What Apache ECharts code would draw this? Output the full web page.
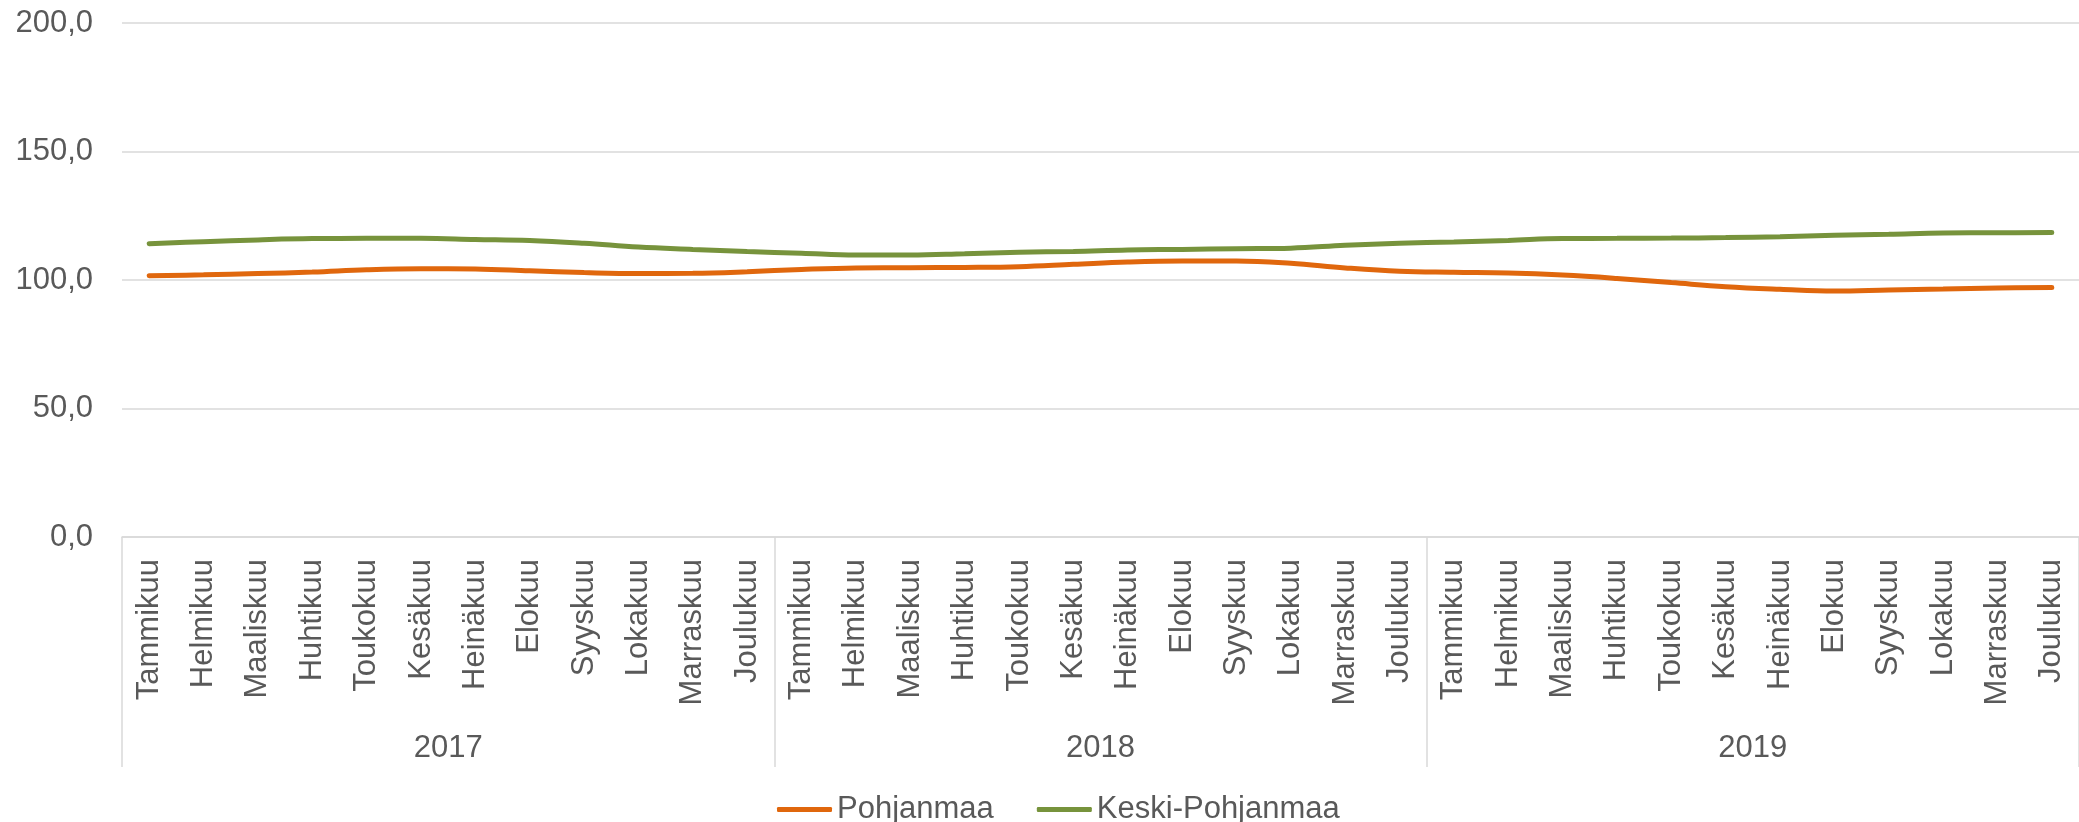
<!DOCTYPE html>
<html>
<head>
<meta charset="utf-8">
<script src="https://cdn.jsdelivr.net/npm/echarts@6/dist/echarts.min.js"></script>
<style>
    html, body { margin: 0; padding: 0; background: #fff; }
    #chart { width: 2079px; height: 822px; }
</style>
</head>
<body>
<div id="chart"></div>
<script>
var months = ['Tammikuu', 'Helmikuu', 'Maaliskuu', 'Huhtikuu', 'Toukokuu', 'Kesäkuu',
    'Heinäkuu', 'Elokuu', 'Syyskuu', 'Lokakuu', 'Marraskuu', 'Joulukuu'];
var years = ['2017', '2018', '2019'];

var pohjanmaa = [
    101.7, 102.0, 102.5, 103.1, 104.0, 104.4, 104.3, 103.6, 102.9, 102.5, 102.6, 103.2,
    104.1, 104.7, 104.8, 104.9, 105.2, 106.1, 107.0, 107.4, 107.4, 106.5, 104.7, 103.4,
    103.0, 102.7, 101.9, 100.6, 99.0, 97.4, 96.4, 95.7, 96.1, 96.5, 96.9, 97.1
];
var keskiPohjanmaa = [
    114.1, 114.9, 115.6, 116.1, 116.2, 116.2, 115.8, 115.4, 114.3, 112.8, 111.9, 111.1,
    110.4, 109.7, 109.7, 110.2, 110.8, 111.1, 111.7, 111.9, 112.2, 112.4, 113.5, 114.3,
    114.8, 115.4, 116.1, 116.2, 116.3, 116.5, 116.8, 117.4, 117.8, 118.3, 118.4, 118.5
];

// kuukaudet joka vuodelle
var categories = [];
for (var y = 0; y < years.length; y++) {
    for (var m = 0; m < months.length; m++) {
        categories.push(months[m]);
    }
}

var font = 'Liberation Sans, Arial, sans-serif';
var textColor = '#595959';
var gridColor = '#D9D9D9';

var myechart = echarts.init(document.getElementById('chart'));
var options = {
    animation: false,
    grid: { left: 122, right: 0, top: 23, bottom: 285 },
    legend: {
        left: 772,
        top: 789,
        icon: 'roundRect',
        itemWidth: 55,
        itemHeight: 5,
        itemGap: 43,
        textStyle: { fontFamily: font, fontSize: 31, color: textColor },
        data: ['Pohjanmaa', 'Keski-Pohjanmaa']
    },
    xAxis: [
        {
            type: 'category',
            data: categories,
            boundaryGap: true,
            axisLine: { lineStyle: { color: gridColor, width: 1.5 } },
            axisTick: { show: false },
            axisLabel: {
                interval: 0,
                rotate: 90,
                margin: 22,
                fontFamily: font,
                fontSize: 31,
                color: textColor
            }
        },
        {
            type: 'category',
            data: years,
            position: 'bottom',
            boundaryGap: true,
            axisLine: { show: false },
            axisTick: {
                show: true,
                interval: 0,
                length: 230,
                lineStyle: { color: gridColor, width: 1.5 }
            },
            axisLabel: {
                interval: 0,
                margin: 196,
                fontFamily: font,
                fontSize: 31,
                color: textColor
            }
        }
    ],
    yAxis: {
        type: 'value',
        min: 0,
        max: 200,
        interval: 50,
        axisLine: { show: false },
        axisTick: { show: false },
        splitLine: { lineStyle: { color: gridColor, width: 1.5 } },
        axisLabel: {
            margin: 29,
            fontFamily: font,
            fontSize: 31,
            color: textColor,
            formatter: function (v) {
                return v.toFixed(1).replace('.', ',');
            }
        }
    },
    series: [
        {
            name: 'Pohjanmaa',
            type: 'line',
            data: pohjanmaa,
            smooth: 0.4,
            symbol: 'none',
            lineStyle: { color: '#E0670D', width: 5, cap: 'round' },
            itemStyle: { color: '#E0670D' }
        },
        {
            name: 'Keski-Pohjanmaa',
            type: 'line',
            data: keskiPohjanmaa,
            smooth: 0.4,
            symbol: 'none',
            lineStyle: { color: '#77933C', width: 5, cap: 'round' },
            itemStyle: { color: '#77933C' }
        }
    ]
};
myechart.setOption(options);
</script>
</body>
</html>
